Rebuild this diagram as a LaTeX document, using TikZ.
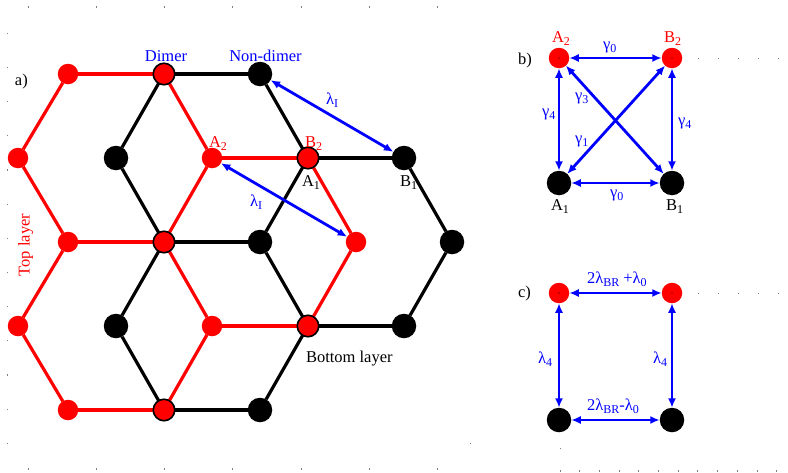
\documentclass[tikz,border=0pt]{standalone}
\usepackage{fontspec}
\setmainfont{Liberation Serif}
\usetikzlibrary{arrows.meta,positioning,backgrounds}

\newcommand{\lowidx}[1]{\raisebox{-3.5pt}{\fontsize{12}{12}\selectfont #1}}

\begin{document}
\begin{tikzpicture}[
    x=1pt,y=-1pt,
    every node/.style={font=\fontsize{16.5}{18}\selectfont,inner sep=0pt,outer sep=0pt},
    topsite/.style={circle,fill=red,minimum size=20.5pt},
    botsite/.style={circle,fill=black,minimum size=24.5pt},
    dimersite/.style={circle,fill=red,draw=black,line width=1.6pt,minimum size=21.5pt},
    topbond/.style={red,line width=3.2pt},
    botbond/.style={black,line width=3.2pt},
    hop/.style={<->,>={Latex[length=9.5pt,width=8pt]},blue,line width=2.8pt},
    txt/.style={anchor=base west},
    tick/.style={fill=gray}
]
\useasboundingbox (0,0) rectangle (788,472);

% frame ticks
\foreach \x in {28,96,164,232,301,369,437} {
  \fill[tick] (\x-0.5,6) rectangle (\x+0.5,8);
  \fill[tick] (\x-0.5,468) rectangle (\x+0.5,470);
}
\foreach \k in {0,...,12}
  \fill[tick] (6.5,{33.3+34.17*\k-0.6}) rectangle (7.5,{33.3+34.17*\k+0.6});
\foreach \x in {560,579.7,...,778}
  \fill[tick] (\x-0.5,470) rectangle (\x+0.5,472);
\foreach \x in {698,718,738,758,778} {
  \fill[tick] (\x-0.5,57.5) rectangle (\x+0.5,58.5);
  \fill[tick] (\x-0.5,292.5) rectangle (\x+0.5,293.5);
}
\fill[tick] (469.5,442.5) rectangle (470.5,443.5);
\fill[tick] (559.5,447.5) rectangle (560.5,448.5);

% a) lattice
\foreach \n/\x/\y in {t1/68/74,t2/18/158,tA/212/158,t3/68/242,t4/356/242,t5/18/326,t6/212/326,t7/68/410}
  \node[topsite] (\n) at (\x,\y) {};
\foreach \n/\x/\y in {b1/260/74,b2/116/158,bB/404/158,b3/260/242,b4/452/242,b5/116/326,b6/404/326,b7/260/410}
  \node[botsite] (\n) at (\x,\y) {};
\foreach \n/\x/\y in {d1/164/74,dB/308/158,d2/164/242,d3/308/326,d4/164/410}
  \node[dimersite] (\n) at (\x,\y) {};

\begin{scope}[on background layer]
\foreach \a/\b in {t1/d1,t1/t2,d1/tA,t2/t3,tA/d2,tA/dB,dB/t4,t3/d2,t3/t5,d2/t6,t4/d3,t5/t7,t6/d4,t6/d3,t7/d4}
  \draw[topbond] (\a) -- (\b);
\foreach \a/\b in {d1/b1,d1/b2,b1/dB,b2/d2,dB/bB,dB/b3,bB/b4,d2/b3,d2/b5,b3/d3,b4/b6,b5/d4,d3/b6,d3/b7,d4/b7}
  \draw[botbond] (\a) -- (\b);
\end{scope}

\draw[hop] (b1) -- (bB);
\draw[hop] (tA) -- (t4);

\node[txt] (alabel) at (15,85) {a)};
\node[anchor=base,blue] (dimer) at (166,61) {Dimer};
\node[anchor=base,blue] (nondimer) at (265.5,61) {Non-dimer};
\node[txt,blue] (lamup) at (326,104) {λ\lowidx{I}};
\node[txt,blue] (lamdown) at (250,206) {λ\lowidx{I}};
\node[txt,red] (tAlbl) at (209,147) {A\lowidx{2}};
\node[txt,red] (dBlbl) at (305,147) {B\lowidx{2}};
\node[txt] (dAlbl) at (302,186) {A\lowidx{1}};
\node[txt] (bBlbl) at (400,186) {B\lowidx{1}};
\node[red,rotate=90,anchor=base] (toplayer) at (29.5,245) {Top layer};
\node[txt] (botlayer) at (306,362) {Bottom layer};

% b) hoppings
\node[topsite] (bA2) at (559,58) {};
\node[topsite] (bB2) at (672,58) {};
\node[botsite] (bA1) at (559,183) {};
\node[botsite] (bB1) at (672,183) {};
\fill (bA2) circle (0.6);
\fill (bB2) circle (0.6);
\draw[hop] (bA2) -- (bB2);
\draw[hop] (bA1) -- (bB1);
\draw[hop] (bA2) -- (bA1);
\draw[hop] (bB2) -- (bB1);
\draw[hop] (bA2) -- (bB1);
\draw[hop] (bA1) -- (bB2);
\node[txt] (blabel) at (518,64) {b)};
\node[txt,red] (bA2lbl) at (552,42) {A\lowidx{2}};
\node[txt,red] (bB2lbl) at (664,42) {B\lowidx{2}};
\node[txt] (bA1lbl) at (551,210) {A\lowidx{1}};
\node[txt] (bB1lbl) at (666,210) {B\lowidx{1}};
\node[txt,blue] (g0top) at (603,49) {γ\lowidx{0}};
\node[txt,blue] (g0bot) at (610,197) {γ\lowidx{0}};
\node[txt,blue] (g4left) at (542,116) {γ\lowidx{4}};
\node[txt,blue] (g4right) at (678,125) {γ\lowidx{4}};
\node[txt,blue] (g3) at (575,100) {γ\lowidx{3}};
\node[txt,blue] (g1) at (575,143) {γ\lowidx{1}};

% c) spin-orbit terms
\node[topsite] (cA2) at (559,293) {};
\node[topsite] (cB2) at (672,293) {};
\node[botsite] (cA1) at (559,420) {};
\node[botsite] (cB1) at (672,420) {};
\fill (cA2) circle (0.6);
\fill (cB2) circle (0.6);
\draw[hop] (cA2) -- (cB2);
\draw[hop] (cA1) -- (cB1);
\draw[hop] (cA2) -- (cA1);
\draw[hop] (cB2) -- (cB1);
\node[txt] (clabel) at (518,297) {c)};
\node[txt,blue] (brplus) at (587,283) {2λ\lowidx{BR} +λ\lowidx{0}};
\node[txt,blue] (brminus) at (587,410) {2λ\lowidx{BR}-λ\lowidx{0}};
\node[txt,blue] (l4left) at (538,363) {λ\lowidx{4}};
\node[txt,blue] (l4right) at (653,363) {λ\lowidx{4}};
\end{tikzpicture}
\end{document}
